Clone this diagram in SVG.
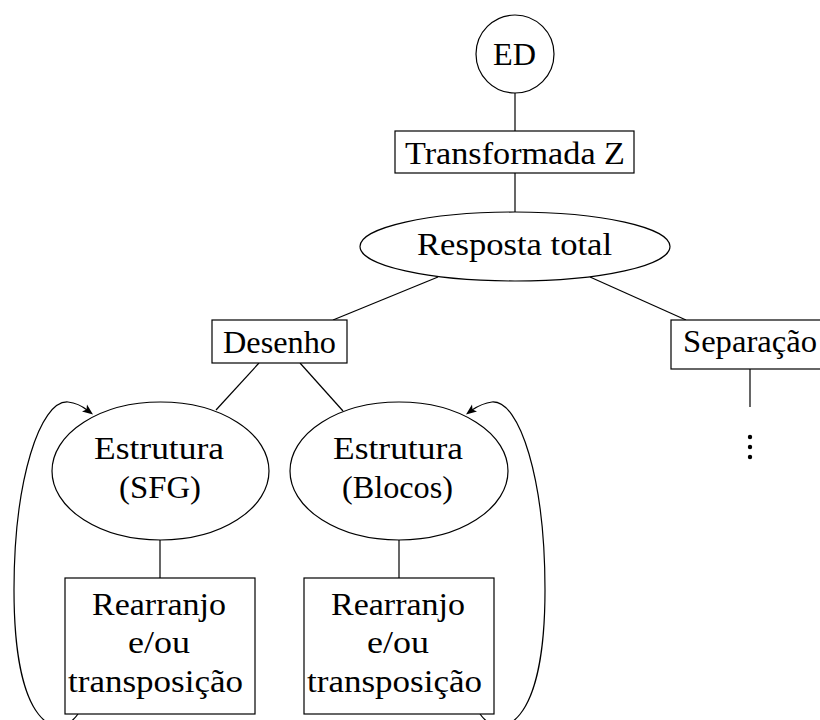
<svg xmlns="http://www.w3.org/2000/svg" width="820" height="720" viewBox="0 0 820 720">
<rect width="820" height="720" fill="#fff"/>
<g id="connectors" fill="none" stroke="#000" stroke-width="1.2">
<line x1="515" y1="93" x2="515" y2="131"/>
<line x1="515" y1="173" x2="515" y2="212"/>
<line x1="438" y1="277" x2="333" y2="320"/>
<line x1="590" y1="277" x2="686" y2="320"/>
<line x1="259" y1="363" x2="216" y2="410"/>
<line x1="300" y1="363" x2="343" y2="411"/>
<line x1="160" y1="540" x2="160" y2="578"/>
<line x1="399" y1="540" x2="399" y2="578"/>
<line x1="750" y1="369" x2="750" y2="407"/>
<path d="M78,714 C58,742 14,728 14,590 C14,480 40,400 68,402 C76,403 82,406 87,410"/>
<path d="M480,714 C500,742 545,728 545,590 C545,480 520,400 492,402 C484,403 478,406 472,410"/>
<path d="M93,414.5 L82,411.5 L86.5,409.5 L87,404.5 Z" fill="#000" stroke="none"/>
<path d="M466,414.5 L477,411.5 L472.5,409.5 L472,404.5 Z" fill="#000" stroke="none"/>
</g>
<g id="ED">
<circle cx="515" cy="54" r="39" fill="#fff" stroke="#000" stroke-width="1.2"/>
<text x="514.5" y="65" style="font-family:'Liberation Serif',serif;font-size:32px" text-anchor="middle" textLength="43" lengthAdjust="spacingAndGlyphs">ED</text>
</g>
<g id="transformada">
<rect x="395" y="131" width="239" height="42" fill="#fff" stroke="#000" stroke-width="1.2"/>
<text x="515" y="164" style="font-family:'Liberation Serif',serif;font-size:32px" text-anchor="middle" textLength="220" lengthAdjust="spacingAndGlyphs">Transformada Z</text>
</g>
<g id="resposta">
<ellipse cx="515" cy="246.5" rx="155" ry="34.5" fill="#fff" stroke="#000" stroke-width="1.2"/>
<text x="514.5" y="255" style="font-family:'Liberation Serif',serif;font-size:32px" text-anchor="middle" textLength="195" lengthAdjust="spacingAndGlyphs">Resposta total</text>
</g>
<g id="desenho">
<rect x="212" y="320" width="135" height="43" fill="#fff" stroke="#000" stroke-width="1.2"/>
<text x="279.5" y="353" style="font-family:'Liberation Serif',serif;font-size:32px" text-anchor="middle" textLength="113" lengthAdjust="spacingAndGlyphs">Desenho</text>
</g>
<g id="separacao">
<rect x="671" y="320" width="150" height="49" fill="#fff" stroke="#000" stroke-width="1.2"/>
<text x="750" y="352" style="font-family:'Liberation Serif',serif;font-size:32px" text-anchor="middle" textLength="134" lengthAdjust="spacingAndGlyphs">Separação</text>
<circle cx="750" cy="437" r="2.2" fill="#000"/>
<circle cx="750" cy="447" r="2.2" fill="#000"/>
<circle cx="750" cy="457" r="2.2" fill="#000"/>
</g>
<g id="sfg">
<ellipse cx="160.5" cy="471" rx="108.5" ry="69" fill="#fff" stroke="#000" stroke-width="1.2"/>
<text x="159" y="459" style="font-family:'Liberation Serif',serif;font-size:32px" text-anchor="middle" textLength="130" lengthAdjust="spacingAndGlyphs">Estrutura</text>
<text x="160" y="498" style="font-family:'Liberation Serif',serif;font-size:32px" text-anchor="middle" textLength="82" lengthAdjust="spacingAndGlyphs">(SFG)</text>
</g>
<g id="blocos">
<ellipse cx="399" cy="471" rx="109" ry="69" fill="#fff" stroke="#000" stroke-width="1.2"/>
<text x="398" y="459" style="font-family:'Liberation Serif',serif;font-size:32px" text-anchor="middle" textLength="130" lengthAdjust="spacingAndGlyphs">Estrutura</text>
<text x="397.5" y="498" style="font-family:'Liberation Serif',serif;font-size:32px" text-anchor="middle" textLength="111" lengthAdjust="spacingAndGlyphs">(Blocos)</text>
</g>
<g id="rearranjo1">
<rect x="65" y="578" width="190" height="136" fill="#fff" stroke="#000" stroke-width="1.2"/>
<text x="159" y="615" style="font-family:'Liberation Serif',serif;font-size:32px" text-anchor="middle" textLength="134" lengthAdjust="spacingAndGlyphs">Rearranjo</text>
<text x="159" y="653" style="font-family:'Liberation Serif',serif;font-size:32px" text-anchor="middle" textLength="62" lengthAdjust="spacingAndGlyphs">e/ou</text>
<text x="155.5" y="692" style="font-family:'Liberation Serif',serif;font-size:32px" text-anchor="middle" textLength="175" lengthAdjust="spacingAndGlyphs">transposição</text>
</g>
<g id="rearranjo2">
<rect x="304" y="578" width="190" height="136" fill="#fff" stroke="#000" stroke-width="1.2"/>
<text x="398" y="615" style="font-family:'Liberation Serif',serif;font-size:32px" text-anchor="middle" textLength="134" lengthAdjust="spacingAndGlyphs">Rearranjo</text>
<text x="398" y="653" style="font-family:'Liberation Serif',serif;font-size:32px" text-anchor="middle" textLength="62" lengthAdjust="spacingAndGlyphs">e/ou</text>
<text x="394.5" y="692" style="font-family:'Liberation Serif',serif;font-size:32px" text-anchor="middle" textLength="175" lengthAdjust="spacingAndGlyphs">transposição</text>
</g>
</svg>
